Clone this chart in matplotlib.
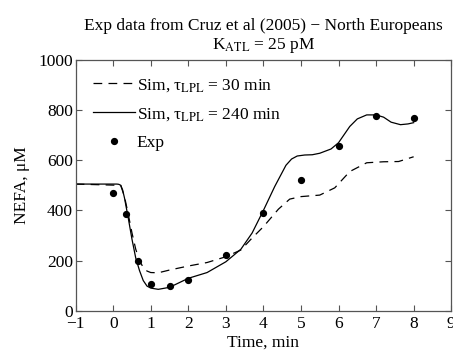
import numpy as np
import matplotlib.pyplot as plt

plt.rcParams['font.family'] = ['Liberation Serif', 'DejaVu Serif']
plt.rcParams['mathtext.fontset'] = 'stix'
plt.rcParams['font.size'] = 12.5

# experimental points
exp_t = [0, 0.33, 0.67, 1, 1.5, 2, 3, 4, 5, 6, 7, 8]
exp_nefa = [470, 385, 200, 105, 100, 122, 220, 388, 520, 655, 775, 768]

# simulation, tau_LPL = 240 min (solid)
sim240_t = [-1, 0.1, 0.15, 0.2, 0.25, 0.3, 0.4, 0.5, 0.6, 0.7, 0.8, 0.9, 1.0, 1.2,
            1.5, 2.0, 2.5, 3.0, 3.4, 3.7, 4.0, 4.3, 4.6, 4.75, 4.9, 5.1, 5.3,
            5.5, 5.8, 6.0, 6.3, 6.5, 6.75, 7.0, 7.2, 7.4, 7.65, 7.85, 8.0]
sim240_y = [505, 505, 504, 500, 482, 450, 370, 285, 210, 160, 120, 98, 90, 85,
            93, 129, 152, 195, 245, 310, 400, 495, 580, 605, 617, 621, 622,
            628, 645, 670, 735, 765, 781, 781, 772, 752, 742, 745, 750]

# simulation, tau_LPL = 30 min (dashed)
sim30_t = [-1, 0.2, 0.3, 0.4, 0.5, 0.6, 0.7, 0.8, 0.9, 1.0, 1.2, 1.5, 2.0, 2.5,
           3.0, 3.4, 3.7, 4.0, 4.4, 4.7, 5.0, 5.5, 5.9, 6.3, 6.75, 7.2, 7.6, 8.0]
sim30_y = [505, 500, 455, 385, 310, 245, 200, 172, 158, 152, 151, 162, 178, 192,
           215, 242, 290, 335, 405, 445, 455, 461, 490, 555, 590, 594, 595, 614]

fig = plt.figure(figsize=(4.53, 3.51), dpi=100)
ax = fig.add_axes([0.167, 0.115, 0.829, 0.714])

ax.plot(sim30_t, sim30_y, '--', color='black', lw=0.9, dashes=(7, 5),
        label=r'Sim, τ$_{\rm LPL}$ = 30 min')
ax.plot(sim240_t, sim240_y, '-', color='black', lw=0.9,
        label=r'Sim, τ$_{\rm LPL}$ = 240 min')
ax.plot(exp_t, exp_nefa, 'o', color='black', markersize=4.2, label='Exp')

ax.set_xlim(-1, 9)
ax.set_ylim(0, 1000)
ax.set_xticks(np.arange(-1, 10, 1))
ax.set_yticks(np.arange(0, 1001, 200))
ax.tick_params(direction='in', top=True, right=True, length=4, width=0.8,
               color='#555555')
ax.tick_params(axis='x', pad=4)
ax.tick_params(axis='y', pad=2)
for s in ax.spines.values():
    s.set_color('#555555')
    s.set_linewidth(0.9)

ax.set_xlabel('Time, min', labelpad=2)
ax.set_ylabel(r'NEFA, μM', labelpad=6)
ax.set_title('Exp data from Cruz et al (2005) − North Europeans\n'
             r'K$_{\rm ATL}$ = 25 pM', fontsize=12.5, linespacing=1.15, pad=8)

ax.legend(loc='upper left', frameon=False, handlelength=2.4, handletextpad=0.1,
          labelspacing=0.7, borderaxespad=0.0, bbox_to_anchor=(0.028, 0.96))

fig.savefig('out.png', dpi=100)
